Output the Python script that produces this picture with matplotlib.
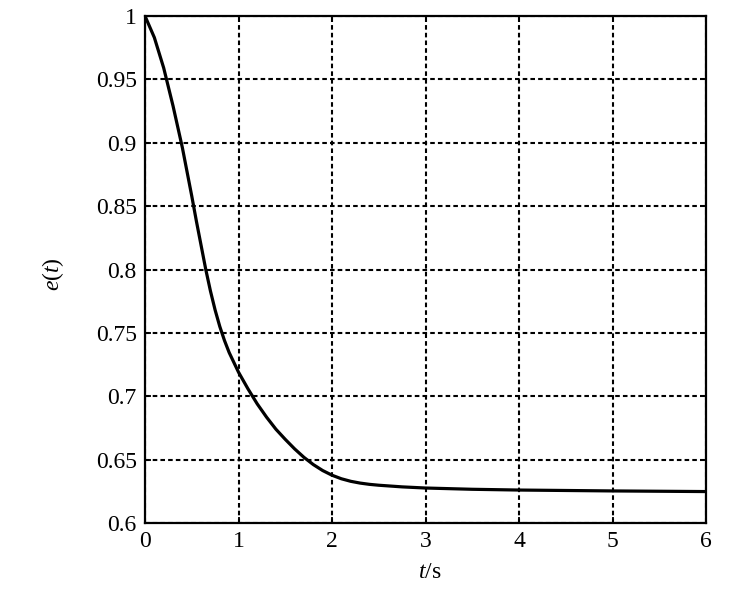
import matplotlib
matplotlib.use("Agg")
import matplotlib.pyplot as plt

# values
t = [0, 0.1, 0.2, 0.3, 0.4, 0.45, 0.5, 0.55, 0.6, 0.65, 0.7, 0.75, 0.8, 0.85, 0.9, 1.0,
     1.1, 1.2, 1.3, 1.4, 1.5, 1.6, 1.7, 1.8, 1.9, 2.0,
     2.1, 2.2, 2.3, 2.4, 2.5, 2.75, 3.0, 3.5, 4.0, 5.0, 6.0]
e = [1.0, 0.983, 0.959, 0.929, 0.896, 0.877, 0.858, 0.838, 0.819, 0.800, 0.783, 0.768,
     0.755, 0.744, 0.7345, 0.719,
     0.706, 0.694, 0.6835, 0.674, 0.666, 0.6585, 0.6518, 0.6461, 0.6414, 0.6377,
     0.6349, 0.6329, 0.6315, 0.6305, 0.6298, 0.6285, 0.6276, 0.6266, 0.626, 0.6253, 0.6248]

xticks = [0, 1, 2, 3, 4, 5, 6]
yticks = [0.6, 0.65, 0.7, 0.75, 0.8, 0.85, 0.9, 0.95, 1]
ylabels = ["0.6", "0.65", "0.7", "0.75", "0.8", "0.85", "0.9", "0.95", "1"]

plt.rcParams['font.family'] = ['Liberation Serif', 'DejaVu Serif']
plt.rcParams['mathtext.fontset'] = 'custom'
plt.rcParams['mathtext.it'] = 'Liberation Serif:italic'
plt.rcParams['mathtext.rm'] = 'Liberation Serif'

fig = plt.figure(figsize=(7.3, 5.95), dpi=100)
ax = fig.add_axes([145/730, 1 - 523/595, (706-145)/730, (523-16)/595])

ax.plot(t, e, color='black', linewidth=2.3, zorder=3)

ax.set_xlim(0, 6)
ax.set_ylim(0.6, 1)
ax.set_xticks(xticks)
ax.set_yticks(yticks)
ax.set_yticklabels(ylabels)
ax.tick_params(direction='in', length=4, width=1.3, labelsize=17, top=True, right=True, pad=6)
ax.grid(True, color='black', linestyle=(0, (2.2, 1.5)), linewidth=1.5)

for s in ax.spines.values():
    s.set_linewidth(1.6)

ax.set_xlabel(r'$t$/s', fontsize=17)
ax.set_ylabel(r'$e$($t$)', fontsize=17)
ax.xaxis.set_label_coords(0.508, -0.076)
ax.yaxis.set_label_coords(-0.14, 0.49)

fig.savefig("out.png", dpi=100)
